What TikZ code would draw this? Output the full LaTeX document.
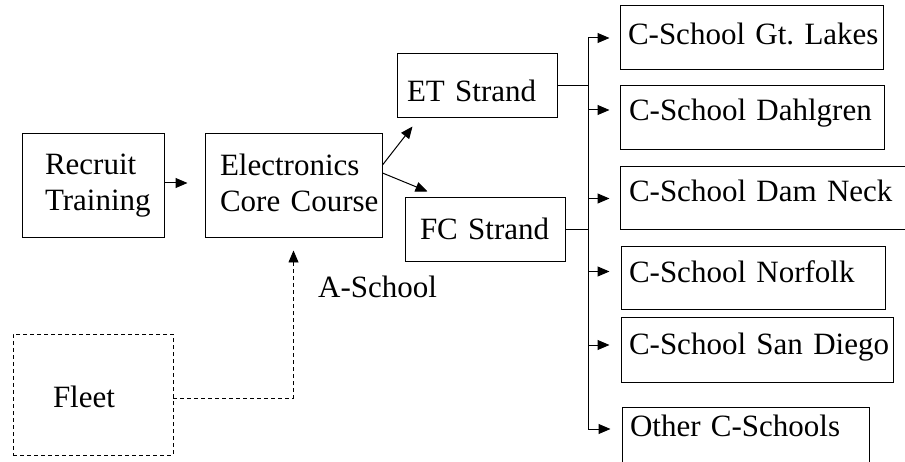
\documentclass[tikz,border=0pt]{standalone}
\usepackage{fontspec}
\setmainfont{Liberation Serif}
\usetikzlibrary{arrows.meta,calc}
\frenchspacing
\tikzset{
  bx/.style={draw, line width=1pt, inner ysep=0pt, align=left},
  arr/.style={line width=1pt, -{Triangle[length=12pt,width=10pt]}},
  dsh/.style={dash pattern=on 4pt off 3pt},
  plain/.style={line width=1pt}
}
\begin{document}
\begin{tikzpicture}[x=1pt,y=-1pt,font=\fontsize{31}{36}\selectfont\frenchspacing]
\useasboundingbox (0,0) rectangle (905,462);
\clip (0,0) rectangle (905,462);
\fill[white] (0,0) rectangle (905,462);
% nodes
\node[bx, minimum width=142, minimum height=104, inner xsep=23, text width=96] (rt) at (93,186) {\mbox{Recruit}\\\mbox{Training}};
\node[bx, minimum width=177, minimum height=104, inner xsep=15, text width=147] (ec) at (293.5,186) {\mbox{Electronics}\\\mbox{Core Course}\rule[-7pt]{0pt}{7pt}};
\node[bx, minimum width=160, minimum height=64, inner xsep=10, text width=140, text height=40, text depth=8] (et) at (477,86) {\mbox{ET Strand}};
\node[bx, minimum width=160, minimum height=64, inner xsep=15, text width=130, text height=28, text depth=8] (fc) at (485,230) {\mbox{FC Strand}};
\node[bx, minimum width=263, minimum height=64, inner xsep=8, text width=247, text height=22, text depth=8] (gl) at (751.5,38) {\mbox{C-School Gt. Lakes}};
\node[bx, minimum width=264, minimum height=64, inner xsep=9, text width=246, text height=22, text depth=16] (dg) at (752,118) {\mbox{C-School Dahlgren}};
\node[bx, minimum width=330, minimum height=63, inner xsep=9, text width=312, text height=22, text depth=15] (dn) at (785,198.5) {\mbox{C-School Dam Neck}};
\node[bx, minimum width=264, minimum height=63, inner xsep=8, text width=248, text height=22, text depth=13] (nf) at (753,278.5) {\mbox{C-School Norfolk}};
\node[bx, minimum width=272, minimum height=64, inner xsep=8, text width=256, text height=22, text depth=12] (sd) at (757,350) {\mbox{C-School San Diego}};
\node[bx, minimum width=247, minimum height=64, inner xsep=8, text width=231, text height=22, text depth=28] (ot) at (745.5,439) {\mbox{Other C-Schools}};
\node[bx, dsh, line width=0.8pt, minimum width=160, minimum height=121, inner xsep=40, text width=80, text height=33, text depth=8] (fl) at (93,394.5) {\mbox{Fleet}};
\node[anchor=base west, inner sep=0pt] (as) at (318,298) {A-School};
% connectors
\draw[arr, shorten >=17pt] ([yshift=3pt]rt.east) -- ([yshift=3pt]ec.west);
\draw[arr] ([yshift=21pt]ec.east) -- ([xshift=16pt,yshift=-8pt]et.south west);
\draw[arr] ([yshift=13pt]ec.east) -- ([xshift=23pt,yshift=6pt]fc.north west);
\coordinate (tr) at (588.5,0);
\path ([xshift=-10pt]gl.west) coordinate (pGL);
\path ([xshift=-10pt,yshift=8pt]dg.west) coordinate (pDG);
\path ([xshift=-10pt]dn.west) coordinate (pDN);
\path ([xshift=-11pt,yshift=7pt]nf.west) coordinate (pNF);
\path ([xshift=-11pt,yshift=5pt]sd.west) coordinate (pSD);
\path ([xshift=-11pt,yshift=10pt]ot.west) coordinate (pOT);
\draw[plain] (et.east) -- (et.east -| tr);
\draw[plain] (fc.east) -- (fc.east -| tr);
\draw[line width=1pt, {Triangle[length=12pt,width=10pt]}-{Triangle[length=12pt,width=10pt]}] (pGL) -- (tr |- pGL) -- (tr |- pOT) -- (pOT);
\draw[arr] (tr |- pDG) -- (pDG);
\draw[arr] (tr |- pDN) -- (pDN);
\draw[arr] (tr |- pNF) -- (pNF);
\draw[arr] (tr |- pSD) -- (pSD);
\draw[arr, dsh, line width=0.8pt] ([yshift=-3.5pt]fl.east) -| ([yshift=-12pt]ec.south);
\end{tikzpicture}
\end{document}
